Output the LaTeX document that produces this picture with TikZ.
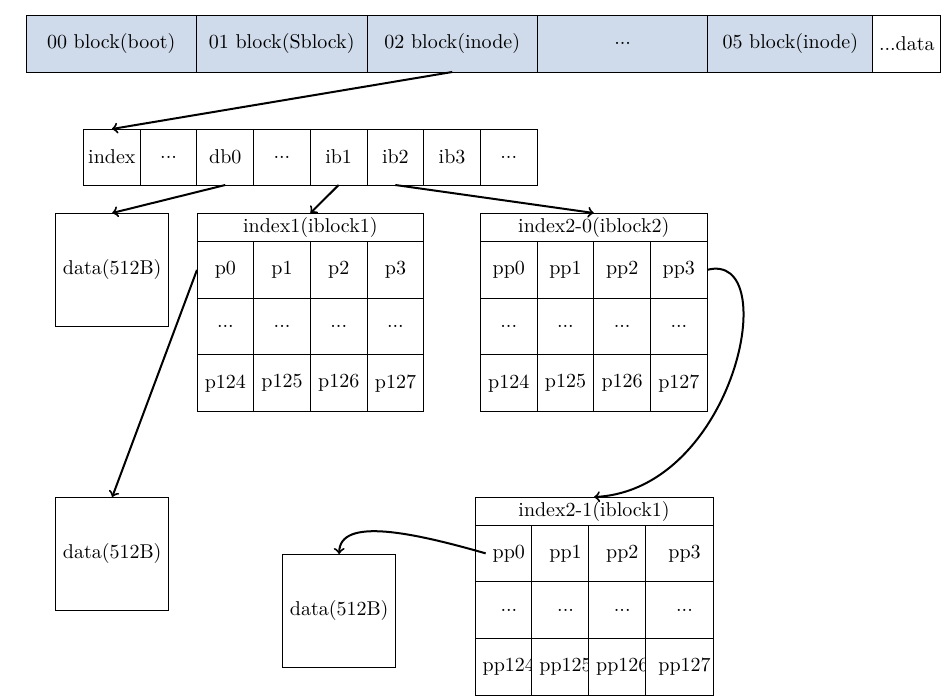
\documentclass[tikz,border=0pt]{standalone}
\definecolor{blockblue}{RGB}{207,219,235}
\newcommand{\mydots}{...}
\begin{document}
\begin{tikzpicture}[x=0.5pt,y=-0.5pt,
  box/.style={draw, line width=0.5pt, inner sep=0pt, outer sep=0pt, anchor=north west},
  blu/.style={box, fill=blockblue, minimum height=28.5pt},
  cell/.style={box, fill=white, minimum width=28.35pt, minimum height=28.35pt},
  ttl/.style={box, fill=white, minimum height=14.25pt},
  dbox/.style={box, fill=white, minimum width=56.7pt, minimum height=56.7pt},
  lbl/.style={inner sep=3.33pt},
  arr/.style={->, line width=1pt}]
\useasboundingbox (0,0) rectangle (946,698);
% top bar
\node[blu, minimum width=85.25pt] (k00) at (26,15) {00 block(boot)};
\node[blu, minimum width=85.25pt] (k01) at (196.5,15) {01 block(Sblock)};
\node[blu, minimum width=85.25pt] (k02) at (367,15) {02 block(inode)};
\node[blu, minimum width=85.15pt] (k03) at (537.5,15) {...};
\node[blu, minimum width=82.5pt] (k05) at (707.8,15) {05 block(inode)};
\node[box, fill=white, minimum height=28.5pt, minimum width=34pt] (kdata) at (872.8,15) {...data};
% inode row
\foreach \t/\n [count=\i from 0] in {index/rindex,\mydots/rda,db0/rdb0,\mydots/rdb,ib1/rib1,ib2/rib2,ib3/rib3,\mydots/rdc}
  \node[cell, minimum height=28pt] (\n) at (83.5+\i*56.7,129) {\t};
% data boxes
\node[dbox] (data1) at (55.5,213) {data(512B)};
\node[dbox] (data2) at (55.5,497) {data(512B)};
\node[dbox] (data3) at (282.5,554) {data(512B)};
% index1
\node[ttl, minimum width=113.4pt] (t1) at (197,213) {index1(iblock1)};
\foreach \t [count=\i from 0] in {p0,p1,p2,p3}
  \node[cell] (a0\i) at (197+\i*56.7,241.5) {\t};
\foreach \i in {0,1,2,3}
  \node[cell] (a1\i) at (197+\i*56.7,298.2) {\mydots};
\foreach \t [count=\i from 0] in {p124,p125,p126,p127}
  \node[cell] (a2\i) at (197+\i*56.7,354.9) {\t};
% index2-0
\node[ttl, minimum width=113.4pt] (t20) at (480.4,213) {index2-0(iblock2)};
\foreach \t [count=\i from 0] in {pp0,pp1,pp2,pp3}
  \node[cell] (b0\i) at (480.4+\i*56.7,241.5) {\t};
\foreach \i in {0,1,2,3}
  \node[cell] (b1\i) at (480.4+\i*56.7,298.2) {\mydots};
\foreach \t [count=\i from 0] in {p124,p125,p126,p127}
  \node[cell] (b2\i) at (480.4+\i*56.7,354.9) {\t};
% index2-1
\node[ttl, minimum width=119pt, minimum height=14pt] (t21) at (475,497) {index2-1(iblock1)};
\foreach \t/\y [count=\r from 0] in {pp0/525,\mydots/581.7,pp124/638.4}{
  \node[cell] (c\r0) at (475,\y) {};
  \node[lbl] (l\r0) at ([xshift=2.75pt]c\r0.center) {\t};
}
\foreach \t/\y [count=\r from 0] in {pp1/525,\mydots/581.7,pp125/638.4}{
  \node[cell] (c\r1) at (531.7,\y) {};
  \node[lbl] (l\r1) at ([xshift=2.75pt]c\r1.center) {\t};
}
\foreach \t/\y [count=\r from 0] in {pp2/525,\mydots/581.7,pp126/638.4}{
  \node[cell] (c\r2) at (588.4,\y) {};
  \node[lbl] (l\r2) at ([xshift=2.75pt]c\r2.center) {\t};
}
\foreach \t/\y [count=\r from 0] in {pp3/525,\mydots/581.7,pp127/638.4}{
  \node[cell, minimum width=34pt] (c\r3) at (645.1,\y) {};
  \node[lbl] (l\r3) at ([xshift=2.7pt]c\r3.center) {\t};
}
% connectors
\draw[arr] (k02.south) -- (rindex.north);
\draw[arr] (rdb0.south) -- (data1.north);
\draw[arr] (rib1.south) -- (t1.north);
\draw[arr] (rib2.south) -- (t20.north);
\draw[arr] (a00.west) -- (data2.north);
\draw[arr] (b03.east) .. controls +(77,-20) and +(141,-7) .. (t21.north);
\draw[arr] (l00.west) .. controls +(-70,-20) and +(0,-38) .. (data3.north);
\end{tikzpicture}
\end{document}
